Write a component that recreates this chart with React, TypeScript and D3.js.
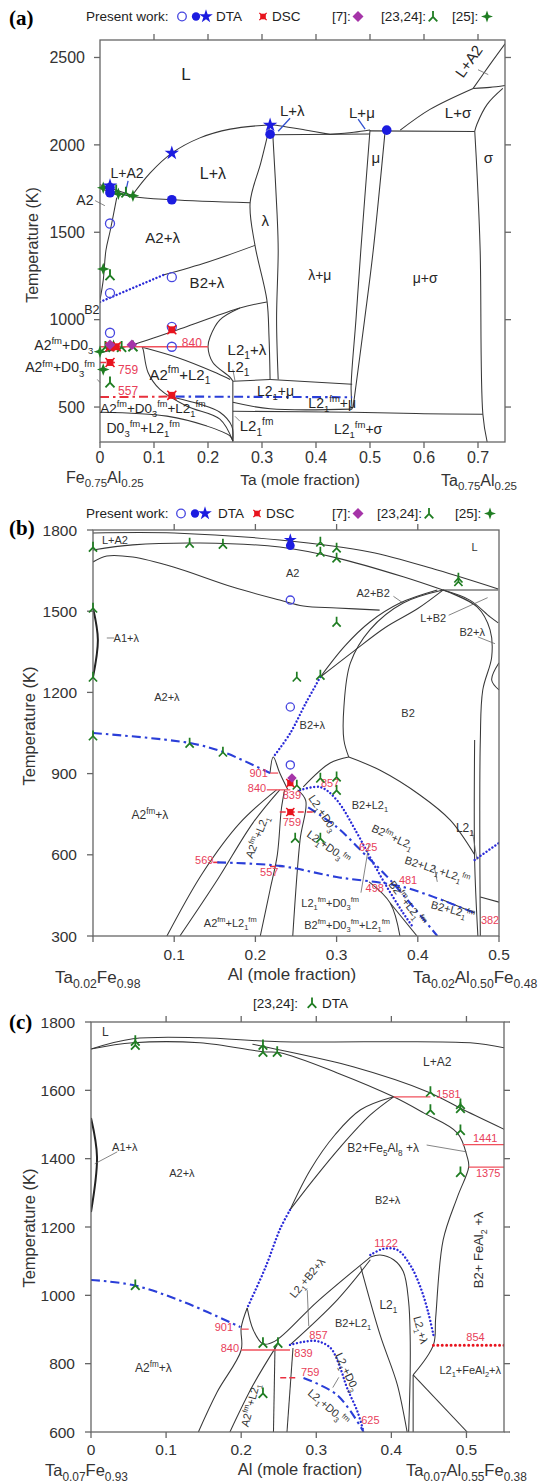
import React from "react";
import * as d3 from "d3";

type Pt = [number, number];
type Label = [number, number, string, number?, number?];
type Num = [number, number, string];

// ---------------- panel (a): Fe0.75Al0.25 – Ta0.75Al0.25 ----------------
const aXTicks = [0, 0.1, 0.2, 0.3, 0.4, 0.5, 0.6, 0.7];
const aYTicks = [500, 1000, 1500, 2000, 2500];

const aBoundaries: Pt[][] = [
  [[0.059, 1709], [0.093, 1840], [0.133, 1953], [0.185, 2040], [0.241, 2090], [0.315, 2115]],
  [[0, 1772], [0.059, 1712]],
  [[0, 1749], [0.059, 1705], [0.133, 1686], [0.278, 1669]],
  [[0.031, 1698], [0.019, 1510], [0.011, 1397], [0.006, 1226], [0, 1113]],
  [[0.315, 2115], [0.298, 1900], [0.278, 1669], [0.287, 1425], [0.309, 1113], [0.313, 900], [0.315, 658]],
  [[0.32, 2060], [0.328, 1600], [0.33, 1397], [0.327, 1000], [0.33, 658]],
  [[0.315, 2115], [0.335, 2108], [0.38, 2085], [0.426, 2060]],
  [[0.426, 2060], [0.47, 2072], [0.5, 2085]],
  [[0.32, 2058], [0.5, 2062]],
  [[0.5, 2080], [0.694, 2076]],
  [[0.5, 2085], [0.483, 1397], [0.474, 1000], [0.465, 613], [0.467, 488]],
  [[0.528, 2080], [0.506, 1397], [0.49, 1000], [0.469, 505]],
  [[0.117, 1255], [0.2, 1330], [0.287, 1425]],
  [[0, 811], [0.061, 857], [0.16, 960], [0.259, 1067], [0.309, 1101]],
  [[0.259, 1067], [0.222, 999], [0.204, 902], [0.2, 845], [0.209, 755], [0.241, 670], [0.246, 647]],
  [[0.246, 647], [0.315, 658]],
  [[0.315, 658], [0.467, 630]],
  [[0.246, 527], [0.315, 490], [0.467, 488]],
  [[0.246, 476], [0.467, 470], [0.6, 462], [0.709, 459]],
  [[0.246, 647], [0.246, 300]],
  [[0.078, 845], [0.08, 828], [0.089, 698], [0.111, 601], [0.161, 505], [0.222, 431], [0.246, 306]],
  [[0.08, 840], [0.143, 783], [0.209, 703], [0.241, 658]],
  [[0, 470], [0.124, 448], [0.198, 391], [0.241, 334], [0.246, 306]],
  [[0.135, 556], [0.185, 516], [0.222, 470], [0.244, 391], [0.246, 306]],
  [[0.691, 2323], [0.611, 2203], [0.556, 2084]],
  [[0.691, 2323], [0.722, 2329], [0.75, 2340]],
  [[0.75, 2578], [0.722, 2459], [0.691, 2323]],
  [[0.746, 2323], [0.717, 2232], [0.698, 2118], [0.694, 2078]],
  [[0.694, 2078], [0.698, 1851], [0.704, 1397], [0.709, 459], [0.717, 300]],
];
const aRedSolid: Pt[][] = [[[0, 845], [0.2, 845]]];
const aRedDash: Pt[][] = [[[0, 755], [0.028, 755]]];
const aRedDashDot: Pt[][] = [[[0, 557], [0.135, 560]]];
const aBlueDotted: Pt[][] = [[[0, 1101], [0.117, 1255]]];
const aBlueDashDot: Pt[][] = [[[0.14, 560], [0.467, 556]]];
const aLeaders: Pt[][] = [
  [[-0.009, 1681], [0.009, 1652]],
  [[0.7, 2430], [0.719, 2402]],
  [[0.246, 715], [0.25, 650]],
  [[0.25, 447], [0.259, 419]],
  [[-0.005, 658], [0, 640]],
];
const aBlueLeaders: Pt[][] = [
  [[0.052, 1794], [0.046, 1712]],
  [[0.33, 2078], [0.352, 2152]],
  [[0.478, 2147], [0.491, 2090]],
];
const aOpen: Pt[] = [[0.0185, 1550], [0.0185, 1152], [0.133, 1243], [0.0185, 925], [0.133, 959], [0.133, 845]];
const aDot: Pt[] = [[0.0185, 1755], [0.0185, 1726], [0.133, 1686], [0.315, 2061], [0.531, 2084]];
const aStar: Pt[] = [[0.133, 1953], [0.315, 2113], [0.0185, 1766]];
const aDsc: Pt[] = [[0.133, 942], [0.0185, 755], [0.133, 567], [0.0185, 845], [0.03, 845]];
const aDiamond: Pt[] = [[0.0185, 857], [0.059, 857]];
const aTripod: Pt[] = [[0.0185, 1255], [0.0185, 641], [0.01, 845], [0.04, 845], [0.061, 848], [0.03, 1740], [0.048, 1728]];
const aCross4: Pt[] = [[0.006, 1755], [0.034, 1720], [0.061, 1709], [0, 817], [0.025, 850], [0.006, 1290], [0.006, 715]];
const aLabels: Label[] = [
  [0.159, 2408, "L", 17], [0.209, 1834, "L+λ", 16], [0.356, 2195, "L+λ", 15], [0.485, 2181, "L+μ", 15],
  [0.663, 2181, "L+σ", 15], [0.683, 2478, "L+A2", 15, -55], [0.719, 1925, "σ", 15], [0.511, 1925, "μ", 15],
  [0.306, 1567, "λ", 15], [0.407, 1255, "λ+μ", 14], [0.602, 1238, "μ+σ", 14], [0.116, 1471, "A2+λ", 15],
  [0.198, 1209, "B2+λ", 15], [0.272, 828, "L2_{1}+λ", 15], [0.148, 686, "A2^{fm}+L2_{1}", 15],
  [0.256, 732, "L2_{1}", 15], [0.325, 594, "L2_{1}+μ", 14], [0.43, 524, "L2_{1}^{fm}+μ", 14],
  [0.478, 374, "L2_{1}^{fm}+σ", 14], [0.29, 391, "L2_{1}^{fm}", 15], [0.098, 494, "A2^{fm}+D0_{3}^{fm}+L2_{1}^{fm}", 13.5],
  [0.08, 382, "D0_{3}^{fm}+L2_{1}^{fm}", 14], [-0.067, 857, "A2^{fm}+D0_{3}", 14], [-0.074, 726, "A2^{fm}+D0_{3}^{fm}", 14],
  [-0.015, 1055, "B2", 12.5], [-0.028, 1686, "A2", 14], [0.05, 1840, "L+A2", 14],
];
const aNums: Num[] = [[0.17, 868, "840"], [0.052, 715, "759"], [0.052, 594, "557"]];

// ---------------- panel (b): Ta0.02Fe0.98 – Ta0.02Al0.50Fe0.48 ----------------
const bXTicks = [0, 0.1, 0.2, 0.3, 0.4, 0.5];
const bXLabels = [0.1, 0.2, 0.3, 0.4, 0.5];
const bYTicks = [300, 600, 900, 1200, 1500, 1800];

const bBoundaries: Pt[][] = [
  [[0, 1789], [0.1, 1789], [0.23, 1763], [0.341, 1719], [0.424, 1652], [0.499, 1582]],
  [[0, 1726], [0.049, 1745], [0.132, 1752], [0.23, 1737], [0.3, 1697], [0.382, 1627], [0.431, 1578]],
  [[0.431, 1578], [0.499, 1578]],
  [[0.431, 1578], [0.464, 1541], [0.489, 1479], [0.499, 1457]],
  [[0, 1682], [0.017, 1704], [0.049, 1700], [0.099, 1663], [0.172, 1589], [0.23, 1541], [0.259, 1519], [0.3, 1512], [0.353, 1504]],
  [[0.28, 1257], [0.31, 1371], [0.341, 1460], [0.378, 1530], [0.424, 1578]],
  [[0.28, 1257], [0.32, 1350], [0.36, 1440], [0.4, 1510], [0.431, 1578]],
  [[0.431, 1578], [0.382, 1530], [0.341, 1431], [0.317, 1309], [0.309, 1146], [0.309, 1024], [0.315, 961]],
  [[0.431, 1578], [0.473, 1516], [0.489, 1431], [0.491, 1331], [0.48, 1209], [0.477, 1024], [0.477, 300]],
  [[0.47, 1024], [0.47, 581], [0.474, 300]],
  [[0.5, 1309], [0.491, 1246], [0.5, 1209]],
  [[0.315, 961], [0.353, 913], [0.403, 820], [0.44, 728], [0.47, 600]],
  [[0.315, 961], [0.292, 939], [0.259, 851]],
  [[0.218, 902], [0.222, 961], [0.23, 902], [0.24, 840]],
  [[0.091, 300], [0.135, 533], [0.181, 718], [0.226, 840]],
  [[0.107, 300], [0.153, 507], [0.197, 718], [0.23, 840]],
  [[0.206, 300], [0.218, 470], [0.227, 600], [0.232, 770], [0.236, 840]],
  [[0.252, 840], [0.262, 800], [0.255, 655], [0.246, 300]],
  [[0.34, 500], [0.366, 422], [0.378, 300]],
  [[0.366, 422], [0.399, 300]],
  [[0.431, 433], [0.47, 385]],
  [[0.477, 444], [0.5, 425]],
];
const bLens: Pt[][] = [[[0, 1512], [0.006, 1394], [0, 1257]]];
const bRedSolid: Pt[][] = [[[0.214, 840], [0.243, 840]], [[0.217, 902], [0.228, 902]]];
const bRedDash: Pt[][] = [[[0.23, 758], [0.271, 758]], [[0.148, 572], [0.159, 572]], [[0.218, 557], [0.234, 557]]];
const bBlueDotted: Pt[][] = [
  [[0.28, 1257], [0.262, 1160], [0.243, 1050], [0.222, 961]],
  [[0.255, 839], [0.28, 850], [0.3, 803], [0.325, 681], [0.341, 592], [0.362, 481], [0.382, 385], [0.394, 333]],
  [[0.47, 581], [0.5, 644]],
];
const bBlueDashDot: Pt[][] = [
  [[0, 1050], [0.119, 1013], [0.16, 980], [0.218, 902]],
  [[0.265, 775], [0.3, 703], [0.333, 607], [0.366, 507], [0.424, 300]],
  [[0.153, 572], [0.23, 559], [0.3, 518], [0.382, 481], [0.47, 385]],
];
const bLeaders: Pt[][] = [
  [[0.017, 1401], [0.026, 1401]],
  [[0.37, 1555], [0.382, 1530]],
  [[0.438, 1485], [0.486, 1550]],
  [[0.474, 1405], [0.495, 1380]],
  [[0.467, 690], [0.473, 581]],
  [[0.33, 460], [0.34, 640]],
  [[0.42, 560], [0.424, 500]],
];
const bOpen: Pt[] = [[0.243, 1541], [0.243, 1146], [0.243, 932]];
const bDot: Pt[] = [[0.243, 1742]];
const bStar: Pt[] = [[0.243, 1763]];
const bDsc: Pt[] = [[0.243, 865], [0.243, 758]];
const bDiamond: Pt[] = [[0.245, 884]];
const bTripod: Pt[] = [
  [0, 1737], [0, 1512], [0, 1257], [0.119, 1752], [0.16, 1748], [0.28, 1756], [0.28, 1719], [0.3, 1734],
  [0.3, 1697], [0.45, 1623], [0.45, 1610], [0.3, 1460], [0.28, 1264], [0.251, 1257], [0.28, 884], [0.3, 888],
  [0.3, 839], [0.249, 662], [0.28, 662], [0.251, 858], [0, 1040], [0.119, 1013], [0.16, 980],
];
const bLabels: Label[] = [
  [0.027, 1763, "L+A2"], [0.47, 1737, "L"], [0.246, 1641, "A2"], [0.345, 1567, "A2+B2"], [0.419, 1475, "L+B2"],
  [0.467, 1423, "B2+λ"], [0.388, 1124, "B2"], [0.27, 1080, "B2+λ"], [0.091, 1183, "A2+λ"], [0.041, 1401, "A1+λ"],
  [0.07, 747, "A2^{fm}+λ", 12], [0.202, 666, "A2^{fm}+L2_{1}", 11, -68], [0.169, 348, "A2^{fm}+L2_{1}^{fm}"],
  [0.283, 754, "L2_{1}+D0_{3}", 11, 56], [0.29, 629, "L2_{1}+D0_{3}^{fm}", 11, 35], [0.341, 784, "B2+L2_{1}"],
  [0.369, 666, "B2^{fm}+L2_{1}", 11, 25], [0.424, 544, "B2+L2_{1}+L2_{1}^{fm}", 11, 18], [0.443, 396, "B2+L2_{1}^{fm}", 11, 15],
  [0.387, 422, "B2^{fm}+L2_{1}^{fm}", 11, 52], [0.292, 422, "L2_{1}^{fm}+D0_{3}^{fm}"], [0.313, 341, "B2^{fm}+D0_{3}^{fm}+L2_{1}^{fm}"],
  [0.458, 699, "L2_{1}", 12],
];
const bNums: Num[] = [
  [0.204, 902, "901"], [0.202, 845, "840"], [0.245, 821, "839"], [0.245, 721, "759"], [0.292, 865, "857"],
  [0.339, 629, "625"], [0.347, 477, "498"], [0.388, 507, "481"], [0.489, 359, "382"], [0.137, 581, "569"], [0.217, 536, "557"],
];

// ---------------- panel (c): Ta0.07Fe0.93 – Ta0.07Al0.55Fe0.38 ----------------
const cXTicks = [0, 0.1, 0.2, 0.3, 0.4, 0.5];
const cYTicks = [600, 800, 1000, 1200, 1400, 1600, 1800];

const cBoundaries: Pt[][] = [
  [[0, 1721], [0.056, 1751], [0.145, 1754], [0.252, 1742], [0.372, 1742], [0.505, 1739], [0.552, 1724]],
  [[0.215, 1735], [0.239, 1724], [0.349, 1669], [0.448, 1596], [0.496, 1543], [0.552, 1484]],
  [[0, 1721], [0.056, 1739], [0.145, 1739], [0.229, 1713], [0.252, 1710], [0.328, 1651], [0.403, 1581], [0.443, 1534],
    [0.488, 1475], [0.501, 1405], [0.503, 1376], [0.488, 1288], [0.469, 1162], [0.459, 934], [0.456, 855], [0.429, 767]],
  [[0.265, 1250], [0.292, 1367], [0.325, 1470], [0.359, 1543], [0.403, 1581]],
  [[0.265, 1250], [0.296, 1338], [0.332, 1434], [0.372, 1528], [0.403, 1581]],
  [[0.208, 963], [0.2, 905], [0.2, 840], [0.168, 717], [0.143, 600]],
  [[0.208, 963], [0.216, 899], [0.229, 858], [0.245, 866], [0.301, 981], [0.372, 1112]],
  [[0.265, 855], [0.328, 987], [0.372, 1104]],
  [[0.248, 855], [0.216, 738], [0.185, 600]],
  [[0.245, 846], [0.243, 600]],
  [[0.269, 846], [0.261, 600]],
  [[0.372, 1112], [0.385, 1118], [0.403, 1104], [0.416, 1069], [0.423, 981], [0.425, 884], [0.425, 767], [0.423, 600]],
  [[0.359, 1085], [0.385, 884], [0.408, 738], [0.421, 600]],
  [[0.429, 767], [0.429, 600]],
  [[0.429, 767], [0.501, 600]],
];
const cLens: Pt[][] = [[[0, 1519], [0.008, 1405], [0, 1244]]];
const cRedSolid: Pt[][] = [
  [[0.403, 1581], [0.452, 1581]], [[0.495, 1441], [0.552, 1441]], [[0.503, 1375], [0.552, 1375]],
  [[0.2, 840], [0.265, 840]], [[0.2, 901], [0.21, 901]],
];
const cRedDash: Pt[][] = [[[0.252, 759], [0.275, 759]]];
const cRedDotted: Pt[][] = [[[0.456, 854], [0.552, 854]]];
const cBlueDotted: Pt[][] = [
  [[0.265, 1250], [0.252, 1195], [0.232, 1080], [0.208, 963]],
  [[0.372, 1118], [0.389, 1136], [0.408, 1133], [0.425, 1089], [0.439, 1022], [0.449, 951], [0.456, 884]],
  [[0.265, 855], [0.283, 864], [0.301, 866], [0.319, 846], [0.332, 787], [0.341, 729], [0.355, 659], [0.363, 600]],
];
const cBlueDashDot: Pt[][] = [
  [[0, 1045], [0.056, 1030], [0.123, 981], [0.199, 907]],
  [[0.283, 758], [0.328, 708], [0.363, 600]],
];
const cLeaders: Pt[][] = [
  [[0.005, 1385], [0.035, 1420]],
  [[0.447, 1440], [0.5, 1420]],
  [[0.288, 1015], [0.29, 910]],
  [[0.322, 730], [0.33, 760]],
];
const cTripod: Pt[] = [
  [0.059, 1733], [0.059, 1745], [0.229, 1733], [0.229, 1713], [0.248, 1713], [0.452, 1596], [0.452, 1543], [0.492, 1560],
  [0.492, 1548], [0.492, 1484], [0.492, 1361], [0.059, 1030], [0.229, 861], [0.249, 861], [0.229, 714],
];
const cLabels: Label[] = [
  [0.019, 1771, "L", 12], [0.461, 1683, "L+A2", 12], [0.389, 1431, "B2+Fe_{5}Al_{8} +λ", 12], [0.395, 1279, "B2+λ"],
  [0.121, 1358, "A2+λ"], [0.045, 1434, "A1+λ"], [0.083, 787, "A2^{fm}+λ", 12], [0.212, 679, "A2^{fm}+L2_{1}", 11, -75],
  [0.288, 1051, "L2_{1}+B2+λ", 11, -50], [0.349, 919, "B2+L2_{1}"], [0.396, 972, "L2_{1}", 12], [0.439, 899, "L2_{1}+λ", 11, 75],
  [0.505, 782, "L2_{1}+FeAl_{2}+λ"], [0.341, 776, "L2_{1}+D0_{3}", 11, 65], [0.316, 673, "L2_{1}+D0_{3}^{fm}", 11, 40],
  [0.516, 1133, "B2+ FeAl_{2} +λ", 13, -90],
];
const cNums: Num[] = [
  [0.476, 1590, "1581"], [0.525, 1461, "1441"], [0.529, 1358, "1375"], [0.393, 1153, "1122"], [0.512, 878, "854"],
  [0.303, 884, "857"], [0.283, 831, "839"], [0.292, 776, "759"], [0.372, 635, "625"], [0.177, 907, "901"], [0.185, 846, "840"],
];

// ---------------- drawing ----------------
const SANS = "'Liberation Sans', Arial, sans-serif";
const BLUE = "#1c1ce0";
const GREEN = "#1f7d22";
const RED = "#e8141e";
const NUMRED = "#e8405a";
const PURPLE = "#a534a8";
const starPath = d3.symbol().type(d3.symbolStar).size(58)() as string;

function rich(s: string, fs: number) {
  const parts: { t: string; k: number }[] = [];
  const re = /(\^\{[^}]*\}|_\{[^}]*\})/g;
  let last = 0;
  let m: RegExpExecArray | null;
  while ((m = re.exec(s))) {
    if (m.index > last) parts.push({ t: s.slice(last, m.index), k: 0 });
    parts.push({ t: m[0].slice(2, -1), k: m[0][0] === "^" ? -1 : 1 });
    last = re.lastIndex;
  }
  if (last < s.length) parts.push({ t: s.slice(last), k: 0 });
  let cur = 0;
  return parts.map((p, i) => {
    const target = p.k === -1 ? -0.42 * fs : p.k === 1 ? 0.3 * fs : 0;
    const dy = target - cur;
    cur = target;
    return (
      <tspan key={i} dy={dy} fontSize={p.k ? fs * 0.68 : fs}>
        {p.t}
      </tspan>
    );
  });
}

function Mark({ k, x, y, s = 1 }: { k: string; x: number; y: number; s?: number }) {
  const t = `translate(${x},${y}) scale(${s})`;
  switch (k) {
    case "open":
      return <circle cx={x} cy={y} r={4.3 * s} fill="none" stroke="#4646e0" strokeWidth={1.3} />;
    case "dot":
      return <circle cx={x} cy={y} r={4.6 * s} fill={BLUE} />;
    case "star":
      return <path transform={t} d={starPath} fill={BLUE} />;
    case "dsc":
      return (
        <g transform={t}>
          <rect x={-3.3} y={-3.3} width={6.6} height={6.6} fill={RED} />
          <path d="M-4.3,-4.3L4.3,4.3M4.3,-4.3L-4.3,4.3" stroke={RED} strokeWidth={1.5} />
        </g>
      );
    case "diamond":
      return <path transform={t} d="M0,-5L5,0L0,5L-5,0Z" fill={PURPLE} />;
    case "tri":
      return <path transform={t} d="M0,-5.5V0.3L-4.3,4.8M0,0.3L4.3,4.8" fill="none" stroke={GREEN} strokeWidth={1.8} />;
    case "x4":
      return <path transform={t} d="M0,-6L1.6,-1.6L6,0L1.6,1.6L0,6L-1.6,1.6L-6,0L-1.6,-1.6Z" fill={GREEN} />;
    default:
      return null;
  }
}

type Layer = { lines: Pt[][]; stroke: string; w: number; dash?: string; cap?: "round" | "butt" };
type Cfg = {
  id: string;
  xd: [number, number];
  yd: [number, number];
  l: number; r: number; t: number; b: number;
  xTicks: number[]; xLabels: number[]; yTicks: number[]; topTicks: number[]; rightTicks: number[];
  tickFs: number; xLabelDy: number; yLabelDx: number;
  layers: Layer[];
  leaders: Layer[];
  marks: { k: string; pts: Pt[] }[];
  ms: number;
  labels: Label[]; labelFs: number; labelColor: string;
  nums: Num[]; numFs: number;
};

const solid = (lines: Pt[][]): Layer => ({ lines, stroke: "#383838", w: 1.05 });
const redSolid = (lines: Pt[][]): Layer => ({ lines, stroke: "#f0505c", w: 1.3 });
const redDash = (lines: Pt[][]): Layer => ({ lines, stroke: "#ea3040", w: 1.6, dash: "6 3" });
const redDashDot = (lines: Pt[][]): Layer => ({ lines, stroke: "#e8303c", w: 2, dash: "9 4 2.5 4" });
const redDotted = (lines: Pt[][]): Layer => ({ lines, stroke: RED, w: 3, dash: "0.01 4.4", cap: "round" });
const blueDotted = (lines: Pt[][]): Layer => ({ lines, stroke: "#2a2ad8", w: 2.4, dash: "0.01 3.6", cap: "round" });
const blueDashDot = (lines: Pt[][]): Layer => ({ lines, stroke: "#2a3ed8", w: 2.1, dash: "9 4 2.5 4" });
const thick = (lines: Pt[][]): Layer => ({ lines, stroke: "#222", w: 2 });
const leader = (lines: Pt[][]): Layer => ({ lines, stroke: "#666", w: 0.8 });
const blueLeader = (lines: Pt[][]): Layer => ({ lines, stroke: "#3050d0", w: 1.3 });

const panelA: Cfg = {
  id: "clipA", xd: [0, 0.75], yd: [300, 2600], l: 100, r: 505, t: 40, b: 442,
  xTicks: aXTicks, xLabels: aXTicks, yTicks: aYTicks, topTicks: aXTicks.slice(1), rightTicks: aYTicks,
  tickFs: 16, xLabelDy: 21, yLabelDx: 15,
  layers: [solid(aBoundaries), redSolid(aRedSolid), redDash(aRedDash), redDashDot(aRedDashDot), blueDotted(aBlueDotted), blueDashDot(aBlueDashDot)],
  leaders: [leader(aLeaders), blueLeader(aBlueLeaders)],
  marks: [
    { k: "x4", pts: aCross4 }, { k: "tri", pts: aTripod }, { k: "open", pts: aOpen }, { k: "dot", pts: aDot },
    { k: "star", pts: aStar }, { k: "dsc", pts: aDsc }, { k: "diamond", pts: aDiamond },
  ],
  ms: 1.05,
  labels: aLabels, labelFs: 15, labelColor: "#262626",
  nums: aNums, numFs: 12,
};

const panelB: Cfg = {
  id: "clipB", xd: [0, 0.5], yd: [300, 1800], l: 93, r: 499, t: 530, b: 936,
  xTicks: bXTicks, xLabels: bXLabels, yTicks: bYTicks, topTicks: [0.1, 0.2, 0.3, 0.4], rightTicks: [],
  tickFs: 15.5, xLabelDy: 24, yLabelDx: 16,
  layers: [solid(bBoundaries), thick(bLens), redSolid(bRedSolid), redDash(bRedDash), blueDotted(bBlueDotted), blueDashDot(bBlueDashDot)],
  leaders: [leader(bLeaders)],
  marks: [
    { k: "tri", pts: bTripod }, { k: "open", pts: bOpen }, { k: "dot", pts: bDot }, { k: "star", pts: bStar },
    { k: "dsc", pts: bDsc }, { k: "diamond", pts: bDiamond },
  ],
  ms: 0.95,
  labels: bLabels, labelFs: 11, labelColor: "#333",
  nums: bNums, numFs: 11,
};

const panelC: Cfg = {
  id: "clipC", xd: [0, 0.55], yd: [600, 1800], l: 91, r: 504, t: 1022, b: 1432,
  xTicks: cXTicks, xLabels: cXTicks, yTicks: cYTicks, topTicks: cXTicks.slice(1), rightTicks: cYTicks,
  tickFs: 15.5, xLabelDy: 23, yLabelDx: 16,
  layers: [solid(cBoundaries), thick(cLens), redSolid(cRedSolid), redDash(cRedDash), redDotted(cRedDotted), blueDotted(cBlueDotted), blueDashDot(cBlueDashDot)],
  leaders: [leader(cLeaders)],
  marks: [{ k: "tri", pts: cTripod }],
  ms: 1,
  labels: cLabels, labelFs: 11, labelColor: "#333",
  nums: cNums, numFs: 11,
};

function Panel({ c }: { c: Cfg }) {
  const x = d3.scaleLinear().domain(c.xd).range([c.l, c.r]);
  const y = d3.scaleLinear().domain(c.yd).range([c.b, c.t]);
  const line = d3
    .line<Pt>()
    .x((d) => x(d[0]))
    .y((d) => y(d[1]))
    .curve(d3.curveCatmullRom.alpha(0.5));
  const ax = "#666";
  const tk = 6;
  const fmt = (v: number) => (v === 0 ? "0" : String(+v.toFixed(2)));
  const drawLayer = (L: Layer, i: number) =>
    L.lines.map((ln, j) => (
      <path key={`${i}-${j}`} d={line(ln) || ""} fill="none" stroke={L.stroke} strokeWidth={L.w}
        strokeDasharray={L.dash} strokeLinecap={L.cap || "butt"} />
    ));
  return (
    <g>
      <defs>
        <clipPath id={c.id}>
          <rect x={c.l} y={c.t} width={c.r - c.l} height={c.b - c.t} />
        </clipPath>
      </defs>
      <g clipPath={`url(#${c.id})`}>{c.layers.map(drawLayer)}</g>
      <g>{c.leaders.map(drawLayer)}</g>
      <rect x={c.l} y={c.t} width={c.r - c.l} height={c.b - c.t} fill="none" stroke={ax} strokeWidth={1.3} />
      {c.xTicks.map((v) => (
        <line key={`xb${v}`} x1={x(v)} x2={x(v)} y1={c.b} y2={c.b + tk} stroke={ax} strokeWidth={1.3} />
      ))}
      {c.topTicks.map((v) => (
        <line key={`xt${v}`} x1={x(v)} x2={x(v)} y1={c.t} y2={c.t - tk} stroke={ax} strokeWidth={1.3} />
      ))}
      {c.yTicks.map((v) => (
        <line key={`yl${v}`} x1={c.l - tk} x2={c.l} y1={y(v)} y2={y(v)} stroke={ax} strokeWidth={1.3} />
      ))}
      {c.rightTicks.map((v) => (
        <line key={`yr${v}`} x1={c.r} x2={c.r + tk} y1={y(v)} y2={y(v)} stroke={ax} strokeWidth={1.3} />
      ))}
      <g fontFamily={SANS} fontSize={c.tickFs} fill="#333">
        {c.xLabels.map((v) => (
          <text key={`xl${v}`} x={x(v)} y={c.b + c.xLabelDy} textAnchor="middle">
            {fmt(v)}
          </text>
        ))}
        {c.yTicks.map((v) => (
          <text key={`ylb${v}`} x={c.l - c.yLabelDx} y={y(v) + c.tickFs * 0.36} textAnchor="end">
            {v}
          </text>
        ))}
      </g>
      <g fontFamily={SANS} fill={c.labelColor}>
        {c.labels.map(([lx, ly, s, fs, rot], i) => {
          const f = fs || c.labelFs;
          return (
            <text key={`lb${i}`} transform={`translate(${x(lx)},${y(ly)}) rotate(${rot || 0})`} y={f * 0.35}
              textAnchor="middle" fontSize={f}>
              {rich(s, f)}
            </text>
          );
        })}
      </g>
      <g fontFamily={SANS} fill={NUMRED} fontSize={c.numFs}>
        {c.nums.map(([nx, ny, s], i) => (
          <text key={`n${i}`} x={x(nx)} y={y(ny) + c.numFs * 0.35} textAnchor="middle">
            {s}
          </text>
        ))}
      </g>
      <g>
        {c.marks.map((m) =>
          m.pts.map((p, i) => <Mark key={`${m.k}${i}`} k={m.k} x={x(p[0])} y={y(p[1])} s={c.ms} />)
        )}
      </g>
    </g>
  );
}

function Comp({ x, y, parts, fs }: { x: number; y: number; parts: [string, string][]; fs: number }) {
  return (
    <text x={x} y={y} fontFamily={SANS} fontSize={fs} fill="#333">
      {parts.map(([a, b], i) => (
        <React.Fragment key={i}>
          <tspan dy={i === 0 ? 0 : -fs * 0.28}>{a}</tspan>
          <tspan dy={fs * 0.28} fontSize={fs * 0.72}>{b}</tspan>
        </React.Fragment>
      ))}
    </text>
  );
}

function Legend({ y, x0 }: { y: number; x0: number[] }) {
  const fs = 13.5;
  const cy = y - 4.5;
  return (
    <g fontFamily={SANS} fontSize={fs} fill="#222">
      <text x={x0[0]} y={y}>Present work:</text>
      <Mark k="open" x={x0[1]} y={cy} />
      <Mark k="dot" x={x0[1] + 14} y={cy} s={0.9} />
      <Mark k="star" x={x0[1] + 24} y={cy} />
      <text x={x0[2]} y={y}>DTA</text>
      <Mark k="dsc" x={x0[3]} y={cy} s={0.85} />
      <text x={x0[3] + 9} y={y}>DSC</text>
      <text x={x0[4]} y={y}>[7]:</text>
      <Mark k="diamond" x={x0[4] + 26} y={cy} s={1.1} />
      <text x={x0[5]} y={y}>[23,24]:</text>
      <Mark k="tri" x={x0[5] + 52} y={cy} />
      <text x={x0[6]} y={y}>[25]:</text>
      <Mark k="x4" x={x0[6] + 35} y={cy} />
    </g>
  );
}

export default function App() {
  const serif = "'Liberation Serif', 'Times New Roman', serif";
  return (
    <svg width={552} height={1483} style={{ position: "absolute", left: 0, top: 0, background: "#fff" }}>
      <rect width={552} height={1483} fill="#fff" />
      {/* panel (a) */}
      <text x={9} y={25} fontFamily={serif} fontWeight="bold" fontSize={21}>(a)</text>
      <Legend y={21} x0={[86, 182, 216, 263, 332, 381, 452]} />
      <Panel c={panelA} />
      <text transform="translate(38,245) rotate(-90)" textAnchor="middle" fontFamily={SANS} fontSize={16} fill="#333">
        Temperature (K)
      </text>
      <text x={300} y={485} textAnchor="middle" fontFamily={SANS} fontSize={15.5} fill="#333">Ta (mole fraction)</text>
      <Comp x={66} y={483} fs={16} parts={[["Fe", "0.75"], ["Al", "0.25"]]} />
      <Comp x={441} y={486} fs={16} parts={[["Ta", "0.75"], ["Al", "0.25"]]} />

      {/* panel (b) */}
      <text x={9} y={535} fontFamily={serif} fontWeight="bold" fontSize={21}>(b)</text>
      <Legend y={518} x0={[86, 181, 218, 257, 332, 377, 455]} />
      <Panel c={panelB} />
      <text transform="translate(35,726) rotate(-90)" textAnchor="middle" fontFamily={SANS} fontSize={16.5} fill="#333">
        Temperature (K)
      </text>
      <text x={292} y={980} textAnchor="middle" fontFamily={SANS} fontSize={17} fill="#333">Al (mole fraction)</text>
      <Comp x={55} y={983} fs={17} parts={[["Ta", "0.02"], ["Fe", "0.98"]]} />
      <Comp x={413} y={983} fs={17} parts={[["Ta", "0.02"], ["Al", "0.50"], ["Fe", "0.48"]]} />

      {/* panel (c) */}
      <text x={9} y={1029} fontFamily={serif} fontWeight="bold" fontSize={21}>(c)</text>
      <g fontFamily={SANS} fontSize={13.5} fill="#222">
        <text x={253} y={1008}>[23,24]:</text>
        <text x={322} y={1008}>DTA</text>
      </g>
      <Mark k="tri" x={312} y={1003} />
      <Panel c={panelC} />
      <text transform="translate(35,1228) rotate(-90)" textAnchor="middle" fontFamily={SANS} fontSize={16.5} fill="#333">
        Temperature (K)
      </text>
      <text x={300} y={1475} textAnchor="middle" fontFamily={SANS} fontSize={16.5} fill="#333">Al (mole fraction)</text>
      <Comp x={45} y={1476} fs={16.5} parts={[["Ta", "0.07"], ["Fe", "0.93"]]} />
      <Comp x={406} y={1476} fs={16.5} parts={[["Ta", "0.07"], ["Al", "0.55"], ["Fe", "0.38"]]} />
    </svg>
  );
}
